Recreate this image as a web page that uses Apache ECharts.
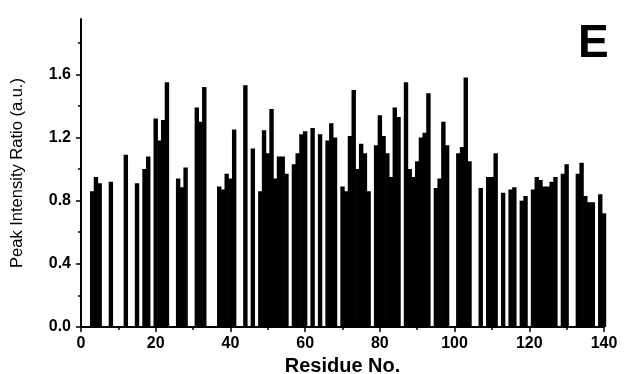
<!DOCTYPE html>
<html>
<head>
<meta charset="utf-8">
<script src="https://cdn.jsdelivr.net/npm/echarts@6/dist/echarts.min.js"></script>
<style>
  html, body { margin: 0; padding: 0; background: #fff; }
  #chart { width: 624px; height: 374px; }
</style>
</head>
<body>
<div id="chart"></div>
<script>
// residue numbers with a measured peak
const residues = [3, 4, 5, 8, 12, 15, 17, 18, 20, 21, 22, 23, 26, 27, 28, 31, 32, 33,
  37, 38, 39, 40, 41, 44, 46, 48, 49, 50, 51, 52, 53, 54, 55, 57, 58, 59, 60, 62, 64,
  66, 67, 68, 70, 71, 72, 73, 74, 75, 76, 77, 79, 80, 81, 82, 83, 84, 85, 87, 88, 89,
  90, 91, 92, 93, 95, 96, 97, 98, 101, 102, 103, 104, 107, 109, 110, 111, 113, 115,
  116, 118, 119, 121, 122, 123, 124, 125, 126, 127, 129, 130, 133, 134, 135, 136, 137,
  139, 140]
// peak intensity ratio for each residue above
const ratios = [0.86, 0.95, 0.91, 0.92, 1.09, 0.91, 1.00, 1.08, 1.32, 1.18, 1.31, 1.55,
  0.94, 0.885, 1.01, 1.39, 1.30, 1.52,
  0.89, 0.87, 0.97, 0.94, 1.25, 1.53, 1.13, 0.86, 1.245, 1.10, 1.38, 0.94, 1.08, 1.08,
  0.97, 1.03, 1.10, 1.22, 1.24, 1.26, 1.22,
  1.18, 1.29, 1.20, 0.89, 0.86, 1.21, 1.50, 1.00, 1.16, 1.10, 0.86, 1.15, 1.34, 1.21,
  1.10, 0.95, 1.39, 1.33, 1.55, 1.00, 0.95,
  1.05, 1.20, 1.23, 1.48, 0.88, 0.94, 1.30, 1.15, 1.10, 1.14, 1.58, 1.05, 0.88, 0.95,
  0.95, 1.10, 0.85, 0.87,
  0.885, 0.80, 0.83, 0.87, 0.95, 0.93, 0.89, 0.89, 0.92, 0.95, 0.97, 1.03, 0.97, 1.04,
  0.83, 0.79, 0.79,
  0.84, 0.72]

const yMajorTicks = [0, 0.4, 0.8, 1.2, 1.6]
const yMinorTicks = [0.2, 0.6, 1.0, 1.4, 1.8]
const yMax = 1.95

const chart = echarts.init(document.getElementById('chart'))

const labelFont = { color: '#000', fontFamily: 'Liberation Sans', fontWeight: 'bold', fontSize: 16 }

const option = {
  animation: false,
  grid: { left: 81, right: 20, top: 19, bottom: 47, containLabel: false, outerBoundsMode: 'none' },
  xAxis: {
    type: 'value',
    min: 0,
    max: 140,
    interval: 20,
    name: 'Residue No.',
    nameLocation: 'middle',
    nameGap: 28,
    nameTextStyle: { color: '#000', fontFamily: 'Liberation Sans', fontWeight: 'bold', fontSize: 20 },
    axisLine: { onZero: false, lineStyle: { color: '#000', width: 2 } },
    axisTick: { length: 5, lineStyle: { color: '#000', width: 1.5 } },
    minorTick: { show: true, splitNumber: 2, length: 3, lineStyle: { color: '#000', width: 1.5 } },
    axisLabel: { ...labelFont, margin: 9 },
    splitLine: { show: false }
  },
  yAxis: [
    {
      type: 'value',
      position: 'left',
      min: 0,
      max: yMax,
      name: 'Peak Intensity Ratio (a.u.)',
      nameLocation: 'middle',
      nameGap: 55,
      nameTextStyle: { color: '#000', fontFamily: 'Liberation Sans', fontSize: 16.5 },
      axisLine: { show: true, lineStyle: { color: '#000', width: 2 } },
      axisTick: { show: true, length: 5, customValues: yMajorTicks, lineStyle: { color: '#000', width: 1.5 } },
      axisLabel: { ...labelFont, margin: 10, customValues: yMajorTicks, formatter: v => v.toFixed(1) },
      splitLine: { show: false }
    },
    {
      // minor ticks only
      type: 'value',
      position: 'left',
      min: 0,
      max: yMax,
      axisLine: { show: false },
      axisTick: { show: true, length: 3, customValues: yMinorTicks, lineStyle: { color: '#000', width: 1.5 } },
      axisLabel: { show: false },
      splitLine: { show: false }
    }
  ],
  series: [
    {
      type: 'bar',
      barWidth: 4.4,
      data: residues.map((r, i) => [r, ratios[i]]),
      itemStyle: { color: '#000' }
    }
  ],
  graphic: [
    {
      type: 'text',
      left: 578,
      top: 21,
      style: { text: 'E', fill: '#000', font: 'bold 46px "Liberation Sans"' }
    }
  ]
}

chart.setOption(option)
</script>
</body>
</html>
